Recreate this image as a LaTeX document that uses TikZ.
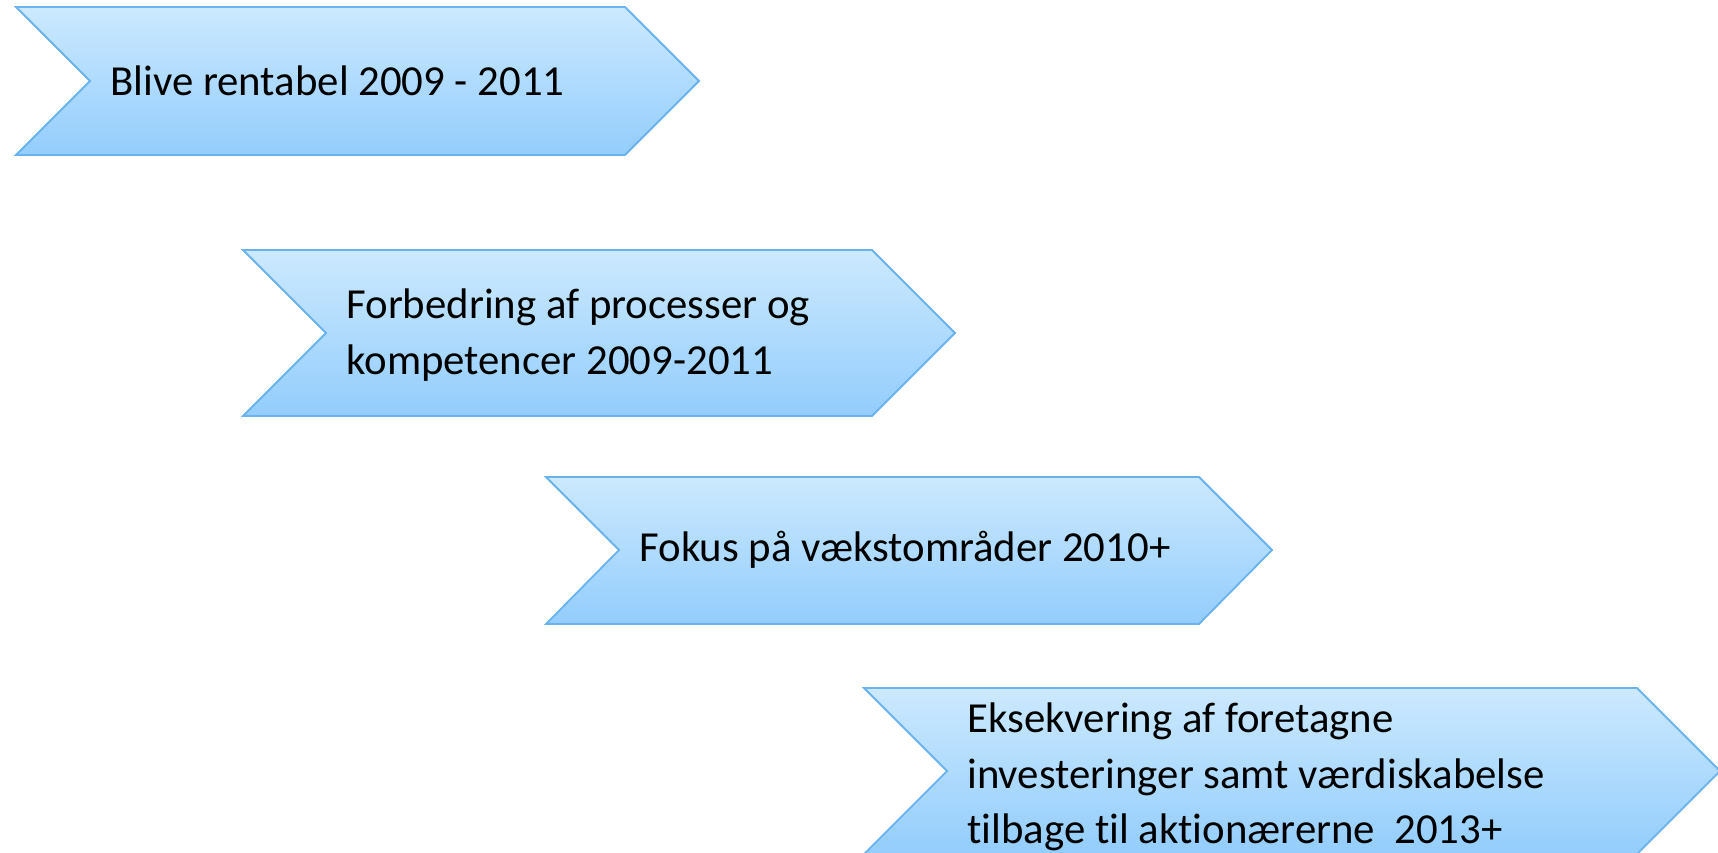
\documentclass[tikz,border=0pt]{standalone}
\usepackage{fontspec}
\setmainfont{Carlito}[Ligatures={NoCommon}]
\usepackage{tikz}
\usepackage{xcolor}
\usetikzlibrary{positioning}
\definecolor{ChevronTop}{HTML}{CCE9FE}
\definecolor{ChevronBottom}{HTML}{93CDFC}
\definecolor{ChevronLine}{HTML}{6AB2EE}
\tikzset{
    % Chevron body with vertical gradient
    chevron/.style={
        draw=ChevronLine,
        line width=0.9pt,
        line join=miter,
        top color=ChevronTop,
        bottom color=ChevronBottom
    },
    % Text inside a chevron
    chevron text/.style={
        anchor=west,
        align=left,
        inner sep=0pt,
        font=\fontsize{21.4pt}{27.6pt}\selectfont
    }
}

\begin{document}
\begin{tikzpicture}[x=0.5pt, y=-0.5pt]
        \useasboundingbox (0,0) rectangle (1718,852);

        % Chevron 1
        \path[chevron] (16,7) -- (625,7) -- (699,81) -- (625,155) -- (16,155) -- (90,81) -- cycle;
        \coordinate (n1) at (90,81);
        \node[chevron text] (t1) at ([xshift=10pt]n1) {Blive rentabel 2009 - 2011};

        % Chevron 2
        \path[chevron] (243,250) -- (872,250) -- (955,333) -- (872,416) -- (243,416) -- (326,333) -- cycle;
        \coordinate (n2) at (326,333);
        \node[chevron text] (t2) at ([xshift=10pt,yshift=-1pt]n2) {Forbedring af processer og\\kompetencer 2009-2011};

        % Chevron 3
        \path[chevron] (546,477) -- (1199,477) -- (1272,550) -- (1199,624) -- (546,624) -- (619,550) -- cycle;
        \coordinate (n3) at (619,550);
        \node[chevron text] (t3) at ([xshift=10pt]n3) {Fokus på vækstområder 2010+};

        % Chevron 4
        \path[chevron] (864,688) -- (1637,688) -- (1720,771) -- (1637,854) -- (864,854) -- (947,771) -- cycle;
        \coordinate (n4) at (947,771);
        \node[chevron text] (t4) at ([xshift=10pt,yshift=-3pt]n4) {Eksekvering af foretagne\\investeringer samt værdiskabelse\\tilbage til aktionærerne~~2013+};
    \end{tikzpicture}
\end{document}
